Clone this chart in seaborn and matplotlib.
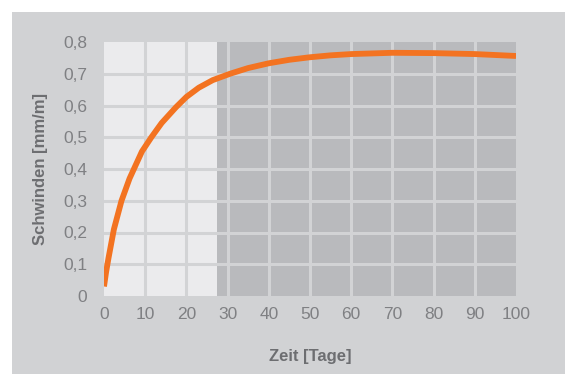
import matplotlib
matplotlib.use("Agg")
import matplotlib.pyplot as plt
from matplotlib.patches import Rectangle
import seaborn as sns
import pandas as pd

# Data
days = [0, 0.5, 1.1, 2.4, 4.25, 6.2, 9.2, 11.5, 14, 17.5, 20, 23, 26.4,
        30.6, 35, 40, 45, 50, 55, 60, 70, 80, 90, 100]
shrinkage = [0.03, 0.075, 0.12, 0.21, 0.30, 0.37, 0.455, 0.50, 0.545, 0.595,
             0.627, 0.656, 0.68, 0.70, 0.718, 0.733, 0.744, 0.752, 0.758,
             0.762, 0.766, 0.765, 0.762, 0.756]
x_ticks = [0, 10, 20, 30, 40, 50, 60, 70, 80, 90, 100]
y_ticks = [0, 0.1, 0.2, 0.3, 0.4, 0.5, 0.6, 0.7, 0.8]
y_tick_labels = ["0", "0,1", "0,2", "0,3", "0,4", "0,5", "0,6", "0,7", "0,8"]
early_phase_end = 27.4

df = pd.DataFrame({"Zeit": days, "Schwinden": shrinkage})

sns.set_theme(style="white")
plt.rcParams["font.family"] = ["Liberation Sans", "DejaVu Sans"]

fig = plt.figure(figsize=(5.65, 3.74), dpi=100)
fig.patch.set_facecolor("white")
bg = Rectangle((12 / 565, 0), 1 - 12 / 565, 1 - 12 / 374,
               transform=fig.transFigure, facecolor="#d1d2d4",
               edgecolor="none", zorder=-10)
fig.patches.append(bg)

ax = fig.add_axes([104 / 565, 1 - 296 / 374, 412 / 565, 254 / 374])
ax.set_zorder(1)
ax.set_facecolor("#b9babd")
ax.axvspan(0, early_phase_end, color="#ebebed", zorder=0, lw=0)

for xv in x_ticks[1:-1]:
    ax.axvline(xv, color="#d2d3d5", lw=2.2, zorder=1)
for yv in y_ticks[1:-1]:
    ax.axhline(yv, color="#d2d3d5", lw=2.2, zorder=1)

sns.lineplot(data=df, x="Zeit", y="Schwinden", ax=ax, color="#f37321",
             lw=4.2, zorder=3)
ax.lines[-1].set_solid_capstyle("butt")
ax.lines[-1].set_solid_joinstyle("round")

ax.set_xlim(0, 100)
ax.set_ylim(0, 0.8)
ax.set_xticks(x_ticks)
ax.set_xticklabels([str(v) for v in x_ticks])
ax.set_yticks(y_ticks)
ax.set_yticklabels(y_tick_labels)
ax.tick_params(axis="both", length=0, labelsize=12.5, labelcolor="#7f8083",
               pad=8)
ax.tick_params(axis="y", pad=12)
for s in ax.spines.values():
    s.set_visible(False)
ax.grid(False)

ax.set_xlabel("Zeit [Tage]", fontsize=12, fontweight="bold", color="#6d6e71",
              labelpad=19)
ax.set_ylabel("Schwinden [mm/m]", fontsize=12, fontweight="bold",
              color="#6d6e71", labelpad=11)

fig.savefig("out.png", dpi=100, facecolor="white")
